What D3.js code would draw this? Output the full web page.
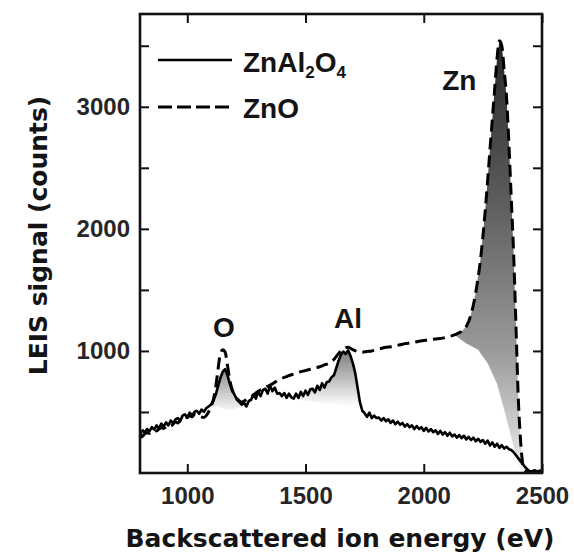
<!DOCTYPE html>
<html>
<head>
<meta charset="utf-8">
<script src="https://cdn.jsdelivr.net/npm/d3@7"></script>
<style>
    body { margin: 0; background: #fff; }
    svg { display: block; }
    .tick text { font-family: "Liberation Sans", Arial, sans-serif; font-weight: bold; font-size: 24px; fill: #262626; }
    .tick line { stroke: #111; stroke-width: 2; }
    .title { font-family: "DejaVu Sans", sans-serif; font-weight: bold; font-size: 25px; fill: #141414; }
    .label { font-family: "Liberation Sans", Arial, sans-serif; font-weight: bold; font-size: 28px; fill: #141414; }
</style>
</head>
<body>
<div id="chart"></div>
<script>
const WIDTH = 574;
const HEIGHT = 554;

// LEIS spectra: [energy (eV), counts]
const znAl2O4 = [
    [800, 290], [805, 335], [812, 350], [820, 330], [830, 360], [840, 340], [850, 375], [860, 355],
    [870, 390], [880, 365], [890, 405], [900, 380], [910, 415], [920, 390], [930, 430], [940, 405],
    [950, 440], [960, 450], [970, 425], [980, 470], [990, 480], [1000, 455], [1010, 495], [1020, 470],
    [1030, 500], [1040, 510], [1050, 485], [1060, 520], [1070, 500], [1080, 530], [1090, 545],
    [1100, 560], [1110, 590], [1120, 640], [1130, 710], [1140, 780], [1150, 830], [1160, 850],
    [1170, 800], [1180, 730], [1190, 675], [1200, 640], [1210, 600], [1220, 580], [1230, 560],
    [1240, 575], [1250, 545], [1260, 590], [1270, 600], [1280, 645], [1290, 610], [1300, 665],
    [1310, 630], [1320, 680], [1330, 690], [1340, 650], [1350, 715], [1360, 670], [1370, 700],
    [1380, 650], [1390, 655], [1400, 630], [1410, 655], [1420, 615], [1430, 650], [1440, 620],
    [1450, 610], [1460, 650], [1470, 615], [1480, 665], [1490, 630], [1500, 675], [1510, 640],
    [1520, 685], [1530, 690], [1540, 660], [1550, 715], [1560, 680], [1570, 735], [1580, 700],
    [1590, 745], [1600, 750], [1610, 785], [1620, 800], [1630, 860], [1640, 920], [1650, 970],
    [1660, 995], [1670, 975], [1680, 1005], [1690, 960], [1700, 900], [1710, 820], [1720, 700],
    [1730, 580], [1740, 510], [1750, 490], [1760, 460], [1770, 495], [1780, 450], [1790, 470],
    [1800, 450], [1810, 455], [1820, 430], [1830, 450], [1840, 425], [1850, 440], [1860, 410],
    [1870, 430], [1880, 400], [1890, 420], [1900, 395], [1910, 410], [1920, 380], [1930, 400],
    [1940, 375], [1950, 390], [1960, 360], [1970, 385], [1980, 360], [1990, 375], [2000, 345],
    [2010, 370], [2020, 340], [2030, 360], [2040, 335], [2050, 350], [2060, 320], [2070, 345],
    [2080, 315], [2090, 335], [2100, 305], [2110, 330], [2120, 300], [2130, 315], [2140, 290],
    [2150, 310], [2160, 285], [2170, 305], [2180, 275], [2190, 295], [2200, 270], [2210, 290],
    [2220, 260], [2230, 280], [2240, 255], [2250, 270], [2260, 240], [2270, 265], [2280, 225],
    [2290, 250], [2300, 215], [2310, 240], [2320, 205], [2330, 228], [2340, 200], [2350, 215],
    [2360, 195], [2370, 188], [2380, 170], [2390, 145], [2400, 120], [2410, 95], [2420, 70],
    [2430, 45], [2440, 25], [2450, 12], [2460, 16], [2470, 22], [2480, 10], [2490, 20], [2500, 15]
];

const znO = [
    [800, 290], [810, 300], [820, 320], [830, 330], [840, 325], [850, 340], [860, 350], [870, 345],
    [880, 360], [890, 370], [900, 365], [910, 380], [920, 390], [930, 385], [940, 400], [950, 420],
    [960, 410], [970, 430], [980, 440], [990, 450], [1000, 455], [1010, 470], [1020, 460], [1030, 480],
    [1040, 475], [1050, 470], [1060, 460], [1070, 455], [1080, 470], [1090, 500], [1100, 540],
    [1110, 600], [1120, 700], [1130, 850], [1140, 980], [1150, 1010], [1160, 990], [1170, 880],
    [1180, 760], [1190, 680], [1200, 640], [1210, 610], [1220, 590], [1230, 580], [1240, 590],
    [1250, 600], [1260, 610], [1270, 620], [1280, 640], [1290, 655], [1300, 670], [1320, 690],
    [1340, 710], [1360, 730], [1380, 755], [1400, 775], [1420, 790], [1440, 805], [1460, 815],
    [1480, 830], [1500, 840], [1520, 850], [1540, 860], [1560, 870], [1580, 885], [1600, 900],
    [1620, 930], [1640, 980], [1660, 1020], [1680, 1030], [1700, 1010], [1720, 995], [1740, 990],
    [1760, 995], [1780, 1000], [1800, 1010], [1820, 1020], [1840, 1030], [1860, 1035], [1880, 1045],
    [1900, 1050], [1920, 1060], [1940, 1065], [1960, 1070], [1980, 1080], [2000, 1085], [2020, 1090],
    [2040, 1095], [2060, 1100], [2080, 1105], [2100, 1115], [2120, 1125], [2140, 1140], [2160, 1160],
    [2180, 1200], [2200, 1300], [2220, 1480], [2240, 1750], [2260, 2150], [2280, 2650], [2300, 3150],
    [2310, 3400], [2320, 3540], [2330, 3500], [2340, 3300], [2350, 3080], [2360, 2700], [2370, 2250],
    [2380, 1800], [2390, 1200], [2400, 600], [2410, 250], [2420, 60], [2430, 20], [2440, 15],
    [2460, 10], [2480, 15], [2500, 10]
];

// lower edges of the grey peak shadings
const oShadeBase = [[1100, 560], [1170, 515], [1250, 545]];
const alShadeBase = [[1420, 615], [1520, 590], [1620, 560], [1735, 540]];
const znShadeBase = [[2130, 1130], [2180, 1060], [2230, 1010], [2270, 900], [2310, 730],
    [2340, 520], [2365, 330], [2390, 140], [2410, 30], [2420, 0]];

const xTicks = [1000, 1500, 2000, 2500];
const yTicks = [500, 1000, 1500, 2000, 2500, 3000, 3500];
const yLabels = [1000, 2000, 3000];

const peakLabels = [
    {text: "O", energy: 1155, counts: 1110},
    {text: "Al", energy: 1680, counts: 1190},
    {text: "Zn", energy: 2150, counts: 3140}
];

const margin = {top: 14, right: 32, bottom: 81, left: 140};
const width = WIDTH - margin.left - margin.right;
const height = HEIGHT - margin.top - margin.bottom;

const svg = d3.select("#chart").append("svg")
    .attr("width", WIDTH)
    .attr("height", HEIGHT);

const g = svg.append("g")
    .attr("transform", "translate(" + margin.left + "," + margin.top + ")");

const x = d3.scaleLinear().domain([800, 2500]).range([0, width]);
const y = d3.scaleLinear().domain([0, 3760]).range([height, 0]);

const defs = svg.append("defs");

function gradient(id, stops) {
    const c0 = stops[0][0], c1 = stops[stops.length - 1][0];
    const grad = defs.append("linearGradient")
        .attr("id", id)
        .attr("gradientUnits", "userSpaceOnUse")
        .attr("x1", 0).attr("x2", 0)
        .attr("y1", y(c0)).attr("y2", y(c1));
    stops.forEach(function(s) {
        grad.append("stop")
            .attr("offset", (s[0] - c0) / (c1 - c0))
            .attr("stop-color", s[1]);
    });
}

gradient("gradO", [[860, "#8a8a8a"], [520, "#f4f4f4"]]);
gradient("gradAl", [[1000, "#7c7c7c"], [560, "#fbfbfb"]]);
gradient("gradZn", [[3550, "#262626"], [2200, "#5e5e5e"], [1000, "#9a9a9a"], [300, "#d4d4d4"], [0, "#eeeeee"]]);

const line = d3.line()
    .x(d => x(d[0]))
    .y(d => y(d[1]));

function shade(series, base, grad) {
    const e0 = base[0][0], e1 = base[base.length - 1][0];
    const top = series.filter(d => d[0] >= e0 && d[0] <= e1);
    g.append("path")
        .attr("d", line(top.concat(base.slice().reverse())) + "Z")
        .attr("fill", "url(#" + grad + ")")
        .attr("stroke", "none");
}

shade(znAl2O4, oShadeBase, "gradO");
shade(znAl2O4, alShadeBase, "gradAl");
shade(znO, znShadeBase, "gradZn");

g.append("path")
    .datum(znO)
    .attr("fill", "none")
    .attr("stroke", "#000")
    .attr("stroke-width", 3)
    .attr("stroke-dasharray", "12,6")
    .attr("stroke-linejoin", "round")
    .attr("d", line.curve(d3.curveMonotoneX));

line.curve(d3.curveLinear);

g.append("path")
    .datum(znAl2O4)
    .attr("fill", "none")
    .attr("stroke", "#000")
    .attr("stroke-width", 2.6)
    .attr("stroke-linejoin", "round")
    .attr("d", line);

// axes, ticks pointing inwards on all four sides
g.append("g")
    .attr("transform", "translate(0," + height + ")")
    .call(d3.axisBottom(x).tickValues(xTicks).tickSize(-9).tickPadding(14).tickFormat(d3.format("d")));

g.append("g")
    .call(d3.axisTop(x).tickValues(xTicks).tickSize(-9).tickFormat(""));

g.append("g")
    .call(d3.axisLeft(y).tickValues(yTicks).tickSize(-9).tickPadding(10)
        .tickFormat(d => yLabels.includes(d) ? d3.format("d")(d) : ""));

g.append("g")
    .attr("transform", "translate(" + width + ",0)")
    .call(d3.axisRight(y).tickValues(yTicks).tickSize(-9).tickFormat(""));

g.selectAll(".domain").remove();

g.append("rect")
    .attr("width", width)
    .attr("height", height)
    .attr("fill", "none")
    .attr("stroke", "#111")
    .attr("stroke-width", 2.6);

// peak labels
g.selectAll(".peak")
    .data(peakLabels)
    .enter()
    .append("text")
    .attr("class", "label")
    .attr("x", d => x(d.energy))
    .attr("y", d => y(d.counts))
    .attr("text-anchor", "middle")
    .text(d => d.text);

// legend
const legend = g.append("g").attr("transform", "translate(18,46)");

legend.append("line")
    .attr("x1", 0).attr("x2", 74)
    .attr("stroke", "#000").attr("stroke-width", 2.6);

legend.append("line")
    .attr("x1", 0).attr("x2", 74)
    .attr("y1", 47).attr("y2", 47)
    .attr("stroke", "#000").attr("stroke-width", 3)
    .attr("stroke-dasharray", "14,5");

const l1 = legend.append("text")
    .attr("class", "label")
    .attr("x", 85)
    .attr("y", 12);
l1.append("tspan").text("ZnAl");
l1.append("tspan").attr("font-size", 17).attr("dy", 6).text("2");
l1.append("tspan").attr("dy", -6).text("O");
l1.append("tspan").attr("font-size", 17).attr("dy", 6).text("4");

legend.append("text")
    .attr("class", "label")
    .attr("x", 85)
    .attr("y", 58)
    .text("ZnO");

// axis titles
svg.append("text")
    .attr("class", "title")
    .attr("x", margin.left + width / 2 - 1)
    .attr("y", 547)
    .attr("text-anchor", "middle")
    .text("Backscattered ion energy (eV)");

svg.append("text")
    .attr("class", "title")
    .attr("transform", "translate(47," + (margin.top + height / 2 - 8) + ") rotate(-90)")
    .attr("text-anchor", "middle")
    .text("LEIS signal (counts)");
</script>
</body>
</html>
